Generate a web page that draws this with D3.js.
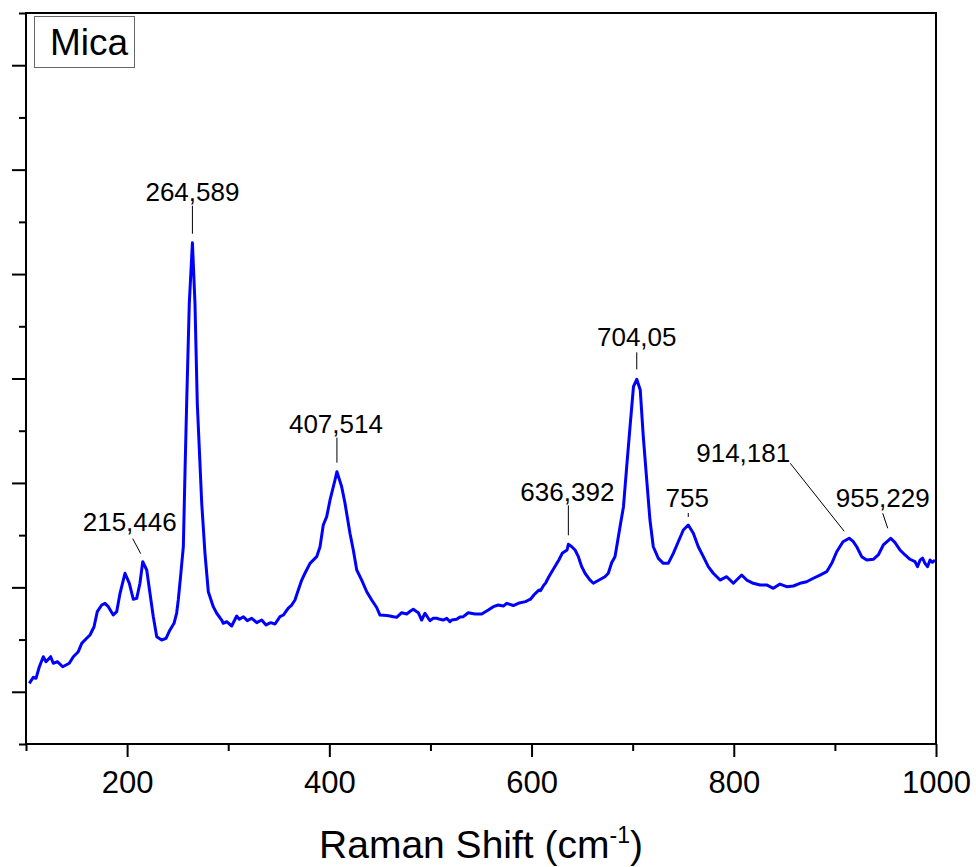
<!DOCTYPE html>
<html>
<head>
<meta charset="utf-8">
<script src="https://cdn.jsdelivr.net/npm/d3@7"></script>
<style>
  html, body { margin: 0; padding: 0; background: #fff; }
  svg { display: block; }
  text { font-family: "Liberation Sans", Arial, Helvetica, sans-serif; fill: #000; }
</style>
</head>
<body>
<svg id="chart" width="976" height="867"></svg>
<script>
// Raman spectrum of mica: shift (cm-1) and intensity (a.u.)
const ramanShift = [
  103.3,107.2,109.9,113.2,117.1,119.8,124.4,127.0,131.0,136.3,
  142.8,146.8,151.7,155.1,160.0,163.3,167.3,170.5,174.9,178.1,
  181.4,186.3,189.7,193.0,197.9,202.2,206.1,209.5,212.7,215.446,
  219.4,222.6,225.9,229.3,234.2,238.5,242.4,246.4,249.0,250.6,
  253.0,255.6,257.3,258.9,261.5,264.589,267.1,269.4,273.8,277.0,
  280.3,285.2,288.6,293.5,295.1,298.5,303.4,308.4,311.0,315.0,
  318.9,323.2,328.2,333.1,337.4,342.0,346.3,351.2,354.5,359.4,
  362.8,366.0,369.3,372.7,375.9,380.9,387.5,390.8,394.0,397.4,
  400.7,405.6,407.514,412.2,415.5,420.4,423.7,427.1,432.0,437.0,
  441.9,446.8,450.1,456.7,460.0,463.3,466.6,471.6,476.5,480.3,
  483.0,488.0,491.3,494.6,497.9,499.6,502.8,506.2,509.5,512.7,
  516.1,519.3,521.0,525.9,529.2,532.5,537.4,544.1,550.7,557.2,
  562.2,567.1,572.1,575.4,581.9,586.9,594.0,597.2,598.9,602.3,
  603.9,607.3,608.8,612.2,613.8,617.1,622.1,627.0,630.3,635.1,
  636.392,639.8,643.0,646.3,649.6,652.9,657.8,661.1,667.7,672.6,
  675.9,679.3,682.5,684.2,687.5,690.9,694.1,697.4,700.8,704.05,
  707.5,710.5,713.9,717.1,720.4,725.4,730.3,735.2,740.2,745.1,
  750.1,755,760.0,764.9,769.9,774.8,779.7,784.7,786.4,793.0,
  799.6,807.8,812.8,819.3,825.9,832.5,839.1,845.7,852.3,858.9,
  865.5,872.1,878.7,885.3,891.9,896.9,901.8,908.0,914.181,918.0,
  921.6,926.5,931.5,938.0,942.9,947.9,955.229,959.5,964.4,969.4,
  974.3,979.2,981.7,984.2,986.7,989.1,991.6,994.1,996.5,999.0
];
const intensity = [
  1081,1139,1129,1240,1336,1288,1336,1273,1288,1240,
  1273,1336,1384,1464,1512,1544,1623,1767,1831,1847,
  1815,1735,1767,1943,2135,2039,1886,1895,2039,2246,
  2166,1943,1719,1528,1496,1512,1592,1656,1754,1879,
  2118,2389,3124,3763,4720,5300,4723,3763,2805,2326,
  1958,1815,1752,1687,1656,1671,1630,1726,1694,1719,
  1681,1704,1662,1687,1640,1662,1649,1719,1735,1802,
  1831,1879,1975,2070,2135,2230,2294,2389,2597,2677,
  2837,3028,3108,2964,2805,2518,2358,2166,2070,1958,
  1879,1807,1735,1731,1726,1719,1713,1757,1745,1774,
  1790,1757,1687,1752,1704,1681,1704,1704,1694,1687,
  1704,1671,1687,1694,1716,1719,1757,1745,1745,1783,
  1815,1831,1821,1847,1826,1847,1863,1879,1886,1927,
  1943,1975,1968,2023,2039,2102,2183,2262,2326,2358,
  2412,2389,2358,2294,2198,2135,2070,2039,2075,2102,
  2135,2238,2294,2389,2581,2772,3155,3538,3922,3992,
  3890,3443,3028,2645,2389,2278,2230,2230,2326,2437,
  2549,2597,2518,2389,2294,2198,2135,2087,2070,2102,
  2039,2118,2070,2039,2023,2023,1991,2032,2006,2013,
  2039,2054,2087,2118,2150,2230,2341,2437,2470,2440,
  2389,2294,2262,2269,2310,2406,2470,2428,2358,2310,
  2269,2246,2198,2260,2281,2230,2198,2262,2240,2262
];

// Labelled peak positions (cm-1) and their printed labels
const peakShift  = [215.446, 264.589, 407.514, 636.392, 704.05, 755, 914.181, 955.229];
const peakLabels = ["215,446", "264,589", "407,514", "636,392", "704,05", "755", "914,181", "955,229"];

// Axis ticks
const xMajorTicks = [200, 400, 600, 800, 1000];
const xMinorTicks = [100, 300, 500, 700, 900];
const yMajorTicks = [1000, 2000, 3000, 4000, 5000, 6000, 7000];
const yMinorTicks = [500, 1500, 2500, 3500, 4500, 5500, 6500, 7500];

const sampleName = "Mica";

// ---- layout ----
const svg = d3.select("#chart");
const plot = { left: 26, top: 13, right: 936, bottom: 744 };

const x = d3.scaleLinear().domain([100, 1000]).range([plot.left, plot.right]);
const y = d3.scaleLinear().domain([500, 7500]).range([plot.bottom, plot.top]);

// minor / major ticks on the bottom axis
const bottomMinor = svg.append("g")
  .attr("transform", `translate(0,${plot.bottom})`)
  .call(d3.axisBottom(x).tickValues(xMinorTicks).tickSize(7).tickFormat(""));
const bottomMajor = svg.append("g")
  .attr("transform", `translate(0,${plot.bottom})`)
  .call(d3.axisBottom(x).tickValues(xMajorTicks).tickSize(13).tickPadding(14)
        .tickFormat(d3.format("d")));

// left axis: unlabelled ticks
const leftMinor = svg.append("g")
  .attr("transform", `translate(${plot.left},0)`)
  .call(d3.axisLeft(y).tickValues(yMinorTicks).tickSize(7).tickFormat(""));
const leftMajor = svg.append("g")
  .attr("transform", `translate(${plot.left},0)`)
  .call(d3.axisLeft(y).tickValues(yMajorTicks).tickSize(14).tickFormat(""));

[bottomMinor, bottomMajor, leftMinor, leftMajor].forEach(g => {
  g.select(".domain").remove();
  g.selectAll(".tick line").attr("stroke", "#000").attr("stroke-width", 2);
});
bottomMajor.selectAll(".tick text")
  .style("font-size", "31px")
  .attr("fill", "#000");

// frame around the plot area
svg.append("rect")
  .attr("x", plot.left).attr("y", plot.top)
  .attr("width", plot.right - plot.left)
  .attr("height", plot.bottom - plot.top)
  .attr("fill", "none")
  .attr("stroke", "#000")
  .attr("stroke-width", 2);

// spectrum
const points = ramanShift.map((s, i) => [s, intensity[i]]);
const line = d3.line().x(d => x(d[0])).y(d => y(d[1]));
svg.append("path")
  .datum(points)
  .attr("d", line)
  .attr("fill", "none")
  .attr("stroke", "#0000ff")
  .attr("stroke-width", 3)
  .attr("stroke-linejoin", "round");

// peak annotations: text offset (tx, ty) and leader line ends (l1, l2) relative to the peak
const annotationLayout = [
  { tx: -13, ty: -31, l1: [-10, -23], l2: [-2, -8] },
  { tx: 0,   ty: -42, l1: [0, -37],  l2: [0, -9] },
  { tx: -1,  ty: -39, l1: [0, -34],  l2: [0, -9] },
  { tx: -1,  ty: -43, l1: [0, -39],  l2: [0, -9] },
  { tx: 0,   ty: -33, l1: [0, -27],  l2: [0, -10] },
  { tx: -1,  ty: -18, l1: [0, -12],  l2: [0, -8] },
  { tx: -106, ty: -76, l1: [-59, -75], l2: [-5, -7] },
  { tx: -8,  ty: -31, l1: [-8, -25], l2: [-3, -10] }
];

const ann = svg.append("g");
peakShift.forEach((s, i) => {
  const idx = ramanShift.indexOf(s);
  const px = x(s), py = y(intensity[idx]);
  const L = annotationLayout[i];
  ann.append("line")
    .attr("x1", px + L.l1[0]).attr("y1", py + L.l1[1])
    .attr("x2", px + L.l2[0]).attr("y2", py + L.l2[1])
    .attr("stroke", "#000").attr("stroke-width", 1);
  ann.append("text")
    .attr("x", px + L.tx).attr("y", py + L.ty)
    .attr("text-anchor", "middle")
    .style("font-size", "26px")
    .text(peakLabels[i]);
});

// sample legend box
svg.append("rect")
  .attr("x", 34.5).attr("y", 16.5).attr("width", 100).attr("height", 51)
  .attr("fill", "#fff").attr("stroke", "#666").attr("stroke-width", 1);
svg.append("text")
  .attr("x", 50).attr("y", 55)
  .style("font-size", "37px")
  .text(sampleName);

// x axis title with superscript
const title = svg.append("text")
  .attr("x", (plot.left + plot.right) / 2)
  .attr("y", 858)
  .attr("text-anchor", "middle")
  .style("font-size", "39px");
title.append("tspan").text("Raman Shift (cm");
title.append("tspan").attr("dy", -15).style("font-size", "23px").text("-1");
title.append("tspan").attr("dy", 15).text(")");
</script>
</body>
</html>
